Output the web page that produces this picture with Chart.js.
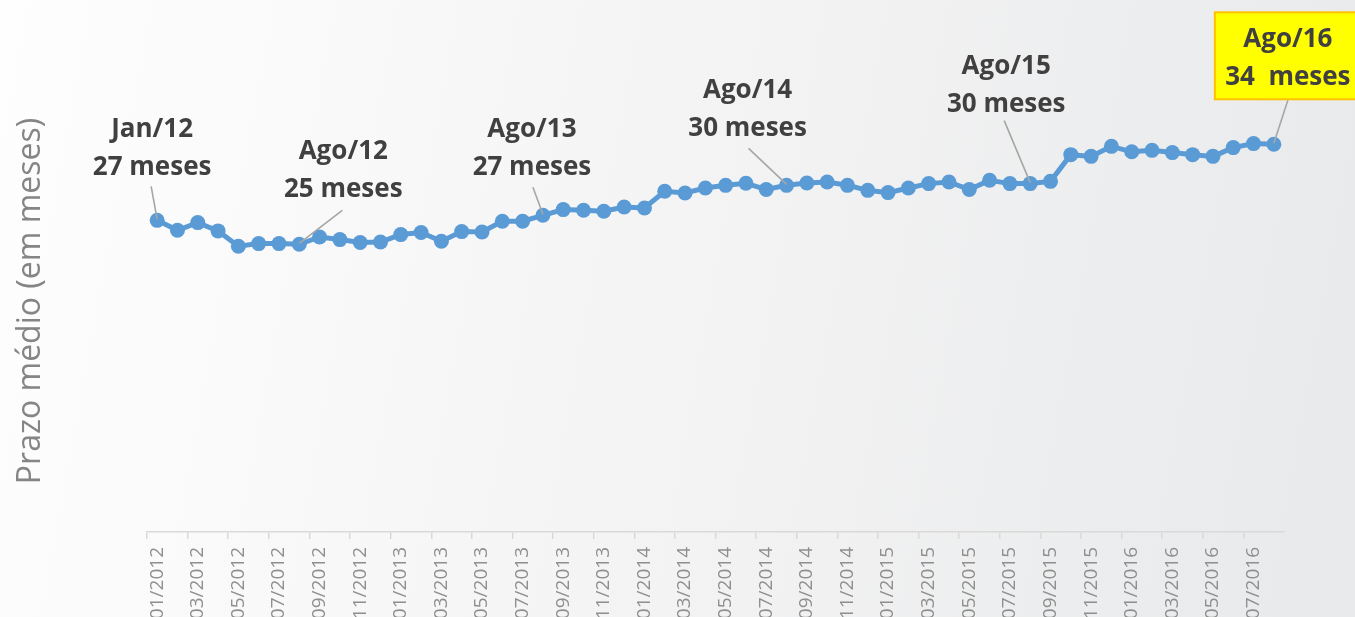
<!DOCTYPE html>
<html>
<head>
<meta charset="utf-8">
<script src="https://cdn.jsdelivr.net/npm/chart.js@4/dist/chart.umd.min.js"></script>
<style>
  html, body { margin: 0; padding: 0; background: #f3f3f3; }
  #wrap { width: 1355px; height: 617px; position: relative; }
</style>
</head>
<body>
<div id="wrap"><canvas id="c" width="1355" height="617"></canvas></div>
<script>
const categories = [
  "01/2012","02/2012","03/2012","04/2012","05/2012","06/2012","07/2012","08/2012","09/2012","10/2012","11/2012","12/2012",
  "01/2013","02/2013","03/2013","04/2013","05/2013","06/2013","07/2013","08/2013","09/2013","10/2013","11/2013","12/2013",
  "01/2014","02/2014","03/2014","04/2014","05/2014","06/2014","07/2014","08/2014","09/2014","10/2014","11/2014","12/2014",
  "01/2015","02/2015","03/2015","04/2015","05/2015","06/2015","07/2015","08/2015","09/2015","10/2015","11/2015","12/2015",
  "01/2016","02/2016","03/2016","04/2016","05/2016","06/2016","07/2016","08/2016"
];
const prazoMedio = [
  27.34, 26.47, 27.14, 26.41, 25.07, 25.30, 25.30, 25.24, 25.88, 25.65, 25.39, 25.44,
  26.09, 26.27, 25.50, 26.35, 26.32, 27.26, 27.26, 27.78, 28.28, 28.22, 28.13, 28.51,
  28.42, 29.89, 29.74, 30.18, 30.41, 30.59, 30.04, 30.41, 30.61, 30.70, 30.41, 29.97,
  29.77, 30.18, 30.56, 30.70, 30.04, 30.85, 30.56, 30.56, 30.76, 33.10, 32.95, 33.83,
  33.35, 33.48, 33.28, 33.10, 32.95, 33.72, 34.07, 34.01
];
const yAxisTitle = "Prazo médio (em meses)";
const annotationIndex = [0, 7, 19, 31, 43, 55];
const annotationLine1 = ["Jan/12", "Ago/12", "Ago/13", "Ago/14", "Ago/15", "Ago/16"];
const annotationLine2 = ["27 meses", "25 meses", "27 meses", "30 meses", "30 meses", "34  meses"];

// layout offsets (pixels relative to the annotated point)
const annLayout = [
  { tx: -5,  b1: -83, b2: -45, lx: -6,  ly: -34 },
  { tx: 44,  b1: -85, b2: -47, lx: 43,  ly: -34 },
  { tx: -11, b1: -78, b2: -40, lx: -10, ly: -28 },
  { tx: -39, b1: -87, b2: -49, lx: -38, ly: -37 },
  { tx: -24, b1: -110, b2: -72, lx: -26, ly: -63 },
  { tx: 14,  b1: -97, b2: -59, lx: 14,  ly: -44, box: { dx: -59, dy: -132, h: 87 } }
];

const bgPlugin = {
  id: 'bg',
  beforeDraw(chart) {
    const ctx = chart.ctx;
    const g = ctx.createLinearGradient(0, 0, chart.width, chart.height * 0.4);
    g.addColorStop(0, '#fefefe');
    g.addColorStop(0.5, '#f4f4f5');
    g.addColorStop(1, '#e9eaeb');
    ctx.save();
    ctx.fillStyle = g;
    ctx.fillRect(0, 0, chart.width, chart.height);
    ctx.restore();
  }
};

const yTitlePlugin = {
  id: 'ytitle',
  afterDraw(chart) {
    const ctx = chart.ctx;
    ctx.save();
    ctx.translate(31, 301);
    ctx.rotate(-Math.PI / 2);
    ctx.font = '32px "Open Sans"';
    ctx.fillStyle = '#858585';
    ctx.textAlign = 'center';
    ctx.textBaseline = 'middle';
    ctx.fillText(yAxisTitle, 0, 0);
    ctx.restore();
  }
};

const annPlugin = {
  id: 'ann',
  afterDatasetsDraw(chart) {
    const ctx = chart.ctx;
    const meta = chart.getDatasetMeta(0);
    ctx.save();
    annotationIndex.forEach((idx, k) => {
      const pt = meta.data[idx];
      const L = annLayout[k];
      const px = pt.x, py = pt.y;
      if (L.box) {
        ctx.fillStyle = '#ffff00';
        ctx.strokeStyle = '#ffc000';
        ctx.lineWidth = 2;
        const bx = px + L.box.dx, by = py + L.box.dy;
        ctx.fillRect(bx, by, chart.width - bx + 20, L.box.h);
        ctx.strokeRect(bx, by, chart.width - bx + 20, L.box.h);
      }
      ctx.strokeStyle = '#a6a6a6';
      ctx.lineWidth = 1.6;
      ctx.beginPath();
      ctx.moveTo(px + L.lx, py + L.ly);
      ctx.lineTo(px, py - 1);
      ctx.stroke();
      ctx.fillStyle = '#404040';
      ctx.font = 'bold 26px "Open Sans"';
      ctx.textAlign = 'center';
      ctx.textBaseline = 'alphabetic';
      ctx.fillText(annotationLine1[k], px + L.tx, py + L.b1);
      ctx.fillText(annotationLine2[k], px + L.tx, py + L.b2);
    });
    ctx.restore();
  }
};

new Chart(document.getElementById('c'), {
  type: 'line',
  data: {
    labels: categories,
    datasets: [{
      data: prazoMedio,
      borderColor: '#5b9bd5',
      backgroundColor: '#5b9bd5',
      borderWidth: 5,
      pointRadius: 7.5,
      pointBackgroundColor: '#5b9bd5',
      pointBorderWidth: 0,
      tension: 0,
      fill: false
    }]
  },
  options: {
    responsive: false,
    animation: false,
    layout: { padding: { left: 147, right: 71, top: 76, bottom: 0 } },
    plugins: { legend: { display: false }, tooltip: { enabled: false } },
    scales: {
      x: {
        type: 'category',
        offset: true,
        grid: {
          offset: true,
          drawOnChartArea: false,
          drawTicks: true,
          tickLength: 7,
          lineWidth: 1.5,
          color: (c) => (c.index % 2 === 0 ? '#d9d9d9' : 'rgba(0,0,0,0)')
        },
        border: { display: true, color: '#d9d9d9', width: 1.5 },
        ticks: {
          autoSkip: false,
          maxRotation: 90,
          minRotation: 90,
          padding: 8,
          color: '#8f8f8f',
          font: { family: 'Open Sans', size: 19 },
          callback: (v, i) => (i % 2 === 0 ? categories[i] : '')
        },
        afterFit: (s) => { s.height = 85; }
      },
      y: {
        display: false,
        min: 0,
        max: 40
      }
    }
  },
  plugins: [bgPlugin, yTitlePlugin, annPlugin]
});
</script>
</body>
</html>
